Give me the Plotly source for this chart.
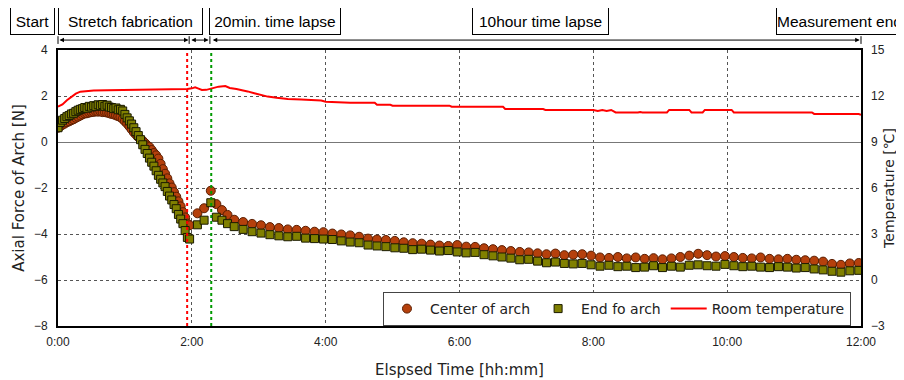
import plotly.graph_objects as go

# ---------------- data (times in minutes) ----------------
t_force = [0, 2, 4, 6, 8, 10, 12, 14, 16, 18, 20, 22, 24, 26, 28, 30, 32, 34, 36, 38,
           40, 42, 44, 46, 48, 50, 52, 54, 56, 58, 60, 62, 64, 66, 68, 70, 72, 74, 76, 78,
           80, 82, 84, 86, 88, 90, 92, 94, 96, 98, 100, 102, 104, 106, 108, 110, 112, 114, 116,
           118, 125, 131, 137, 142, 147, 152,
           158, 166, 174, 182, 190, 198, 206, 214, 222, 230, 238, 246, 254, 262, 270, 278,
           286, 294, 302, 310, 318, 326, 334, 342, 350, 358, 366, 374, 382, 390, 398, 406,
           414, 422, 430, 438, 446, 454, 462, 470, 478, 486, 494, 502, 510, 518, 526, 534,
           542, 550, 558, 566, 574, 582, 590, 598, 606, 614, 622, 630, 638, 646, 654, 662,
           670, 678, 686, 694, 702, 710, 718]

center_force = [0.62, 0.68, 0.75, 0.80, 0.86, 0.90, 0.95, 0.99, 1.05, 1.10, 1.15, 1.20, 1.24, 1.25, 1.28, 1.30, 1.31, 1.33, 1.32, 1.33,
                1.30, 1.30, 1.28, 1.25, 1.22, 1.20, 1.16, 1.12, 1.08, 1.00, 0.90, 0.80, 0.68, 0.55, 0.42, 0.32, 0.22, 0.12, 0.05, -0.05,
                -0.15, -0.22, -0.35, -0.48, -0.58, -0.72, -0.95, -1.18, -1.38, -1.58, -1.80, -1.98, -2.18, -2.38, -2.58, -2.80, -3.05, -3.28, -3.55,
                -3.62, -3.10, -2.88, -2.12, -2.70, -2.96, -3.17,
                -3.38, -3.48, -3.56, -3.62, -3.70, -3.74, -3.80, -3.82, -3.86, -3.90, -3.92, -3.98, -4.02, -4.06, -4.12, -4.20,
                -4.24, -4.26, -4.30, -4.36, -4.40, -4.42, -4.46, -4.50, -4.52, -4.48, -4.55, -4.56, -4.62, -4.66, -4.70, -4.74,
                -4.78, -4.80, -4.84, -4.88, -4.85, -4.92, -4.90, -4.88, -4.94, -5.02, -5.04, -5.00, -5.06, -5.02, -5.08, -5.05,
                -5.10, -5.06, -5.00, -4.94, -4.86, -4.92, -4.98, -4.96, -5.00, -5.04, -5.06, -5.02, -5.08, -5.10, -5.08, -5.12,
                -5.14, -5.16, -5.20, -5.30, -5.34, -5.28, -5.26]

end_force = [0.62, 0.85, 0.95, 1.02, 1.10, 1.15, 1.22, 1.25, 1.32, 1.38, 1.42, 1.45, 1.50, 1.47, 1.55, 1.52, 1.58, 1.55, 1.62, 1.58,
             1.63, 1.55, 1.60, 1.52, 1.50, 1.45, 1.48, 1.40, 1.42, 1.35, 1.20, 1.05, 0.92, 0.78, 0.62, 0.45, 0.28, 0.10, -0.12, -0.32,
             -0.50, -0.70, -0.88, -1.05, -1.25, -1.45, -1.62, -1.78, -1.94, -2.15, -2.35, -2.52, -2.72, -2.90, -3.15, -3.35, -3.55, -3.85, -4.15,
             -4.22, -3.60, -3.40, -2.64, -3.27, -3.40, -3.55,
             -3.68, -3.80, -3.90, -3.96, -4.03, -4.08, -4.12, -4.10, -4.18, -4.20, -4.22, -4.24, -4.30, -4.35, -4.38, -4.48,
             -4.52, -4.55, -4.60, -4.62, -4.68, -4.66, -4.70, -4.74, -4.72, -4.78, -4.82, -4.80, -4.90, -4.95, -5.00, -5.05,
             -5.12, -5.10, -5.18, -5.25, -5.22, -5.28, -5.30, -5.28, -5.34, -5.40, -5.36, -5.42, -5.40, -5.46, -5.44, -5.38,
             -5.46, -5.40, -5.44, -5.36, -5.34, -5.38, -5.40, -5.32, -5.38, -5.42, -5.40, -5.44, -5.46, -5.42, -5.44, -5.48,
             -5.46, -5.52, -5.56, -5.62, -5.66, -5.60, -5.58]

t_temp = [0, 4, 8, 12, 16, 20, 26, 32, 44, 56, 68, 76, 82, 90, 100, 110, 116, 120, 123, 126,
          129, 133, 136, 140, 144, 150, 154, 160, 165, 170, 176, 182, 188, 196, 206, 218, 226, 236, 240, 252,
          262, 284, 286, 298, 300, 351, 353, 399, 401, 435, 437, 480, 484, 488, 492, 496, 500, 520, 522, 524,
          534, 536, 538, 546, 548, 566, 568, 578, 580, 604, 606, 676, 678, 718, 720]
room_temp = [11.30, 11.45, 11.72, 11.95, 12.15, 12.28, 12.33, 12.36, 12.38, 12.39, 12.40, 12.42, 12.41, 12.43, 12.43, 12.45, 12.46, 12.50, 12.57, 12.48,
             12.39, 12.40, 12.46, 12.55, 12.61, 12.65, 12.52, 12.45, 12.39, 12.30, 12.18, 12.08, 11.96, 11.88, 11.80, 11.77, 11.74, 11.70, 11.63, 11.60,
             11.56, 11.56, 11.43, 11.43, 11.37, 11.37, 11.30, 11.30, 11.15, 11.15, 11.09, 11.09, 11.02, 11.09, 11.02, 11.09, 10.93, 10.93, 10.96, 10.93,
             10.93, 10.96, 10.93, 10.93, 11.09, 11.09, 10.93, 10.93, 11.09, 11.09, 10.93, 10.93, 10.83, 10.83, 10.78]

x_tickvals = [0, 2, 4, 6, 8, 10, 12]
x_ticklabels = ["0:00", "2:00", "4:00", "6:00", "8:00", "10:00", "12:00"]

stretch_end_h = 1.93
lapse20_end_h = 2.29

FONT = "DejaVu Sans"
BOXFONT = "Liberation Sans"
TICKFONT = "Liberation Sans"

xf = [m / 60 for m in t_force]
xt = [m / 60 for m in t_temp]

fig = go.Figure()
fig.add_trace(go.Scatter(
    x=xf, y=center_force, mode="markers", name="Center of arch",
    marker=dict(symbol="circle", size=9, color="#B5400C",
                line=dict(color="#5A1E02", width=1))))
fig.add_trace(go.Scatter(
    x=xf, y=end_force, mode="markers", name="End fo arch",
    marker=dict(symbol="square", size=8, color="#808000",
                line=dict(color="#1A1A00", width=1))))
fig.add_trace(go.Scatter(
    x=xt, y=room_temp, mode="lines", name="Room temperature", yaxis="y2",
    line=dict(color="#FF0000", width=2)))

grid = dict(showgrid=True, gridcolor="#555555", gridwidth=1, griddash="dot")
tickfont = dict(family=TICKFONT, size=12, color="#222")

# the page adds an 8px body margin, so the figure is sized to fill the rest
fig.update_layout(
    width=896, height=372,
    margin=dict(l=50, r=43, t=42, b=54, autoexpand=False),
    paper_bgcolor="white", plot_bgcolor="white",
    font=dict(family=FONT, size=13, color="#222"),
    showlegend=True,
    legend=dict(orientation="h", x=0.4047, y=0.1232, xanchor="left", yanchor="top",
                bgcolor="white", bordercolor="#444", borderwidth=1,
                font=dict(family=FONT, size=14), itemwidth=36),
    xaxis=dict(range=[0, 12], tickvals=x_tickvals, ticktext=x_ticklabels,
               showline=True, linecolor="black", linewidth=2, mirror=True,
               ticks="", zeroline=False, automargin=False, tickfont=tickfont,
               ticklabelstandoff=4,
               title=dict(text="Elspsed Time [hh:mm]", font=dict(size=15), standoff=16),
               **grid),
    yaxis=dict(range=[-8, 4], dtick=2, showline=True, linecolor="black", linewidth=2,
               mirror=True, ticks="", zeroline=True, zerolinecolor="#777", zerolinewidth=1,
               automargin=False, tickfont=tickfont, ticklabelstandoff=6,
               title=dict(text="Axial Force of Arch [N]", font=dict(size=15), standoff=6),
               **grid),
    yaxis2=dict(range=[-3, 15], dtick=3, overlaying="y", side="right", showgrid=False,
                zeroline=False, showline=False, ticks="", automargin=False, tickfont=tickfont,
                ticklabelstandoff=9,
                title=dict(text="Temperature [℃]", font=dict(size=14), standoff=0)),
)

# event lines
fig.add_shape(type="line", xref="x", yref="paper", x0=stretch_end_h, x1=stretch_end_h, y0=0, y1=1,
              line=dict(color="#FF0000", width=2, dash="dot"))
fig.add_shape(type="line", xref="x", yref="paper", x0=lapse20_end_h, x1=lapse20_end_h, y0=0, y1=1,
              line=dict(color="#009900", width=2, dash="dot"))

# top phase boxes
def box(text, xc, w, anchor="center", align="center"):
    fig.add_annotation(text=text, xref="paper", yref="paper", x=xc, y=1.105,
                       xanchor=anchor, yanchor="middle", showarrow=False,
                       width=w, height=26, align=align,
                       bgcolor="white", bordercolor="black", borderwidth=1, borderpad=0,
                       font=dict(family=BOXFONT, size=15.5, color="black"))

box("Start", -0.0318, 43)
box("Stretch fabrication", 0.0903, 143)
box("20min. time lapse", 0.2702, 130)
box("10hour time lapse", 0.6009, 135)
box("Measurement end", 0.894, 150, anchor="left", align="left")

# phase arrows
arrow_y = 1.036
segments = [(0.0, 1.95), (1.97, 2.25), (2.29, 11.98)]
for a, b in segments:
    fig.add_annotation(x=b, y=arrow_y, ax=a, ay=0, xref="x", yref="paper",
                       axref="x", ayref="pixel", text="", showarrow=True,
                       arrowhead=2, arrowside="end+start", arrowsize=0.9,
                       arrowwidth=1, arrowcolor="black", standoff=0, startstandoff=0)
for tb in [0.0, 1.96, 2.27, 12.0]:
    fig.add_shape(type="line", xref="paper", yref="paper", x0=tb / 12, x1=tb / 12,
                  y0=arrow_y - 0.014, y1=arrow_y + 0.014, line=dict(color="black", width=1))

fig.write_html("out.html")
